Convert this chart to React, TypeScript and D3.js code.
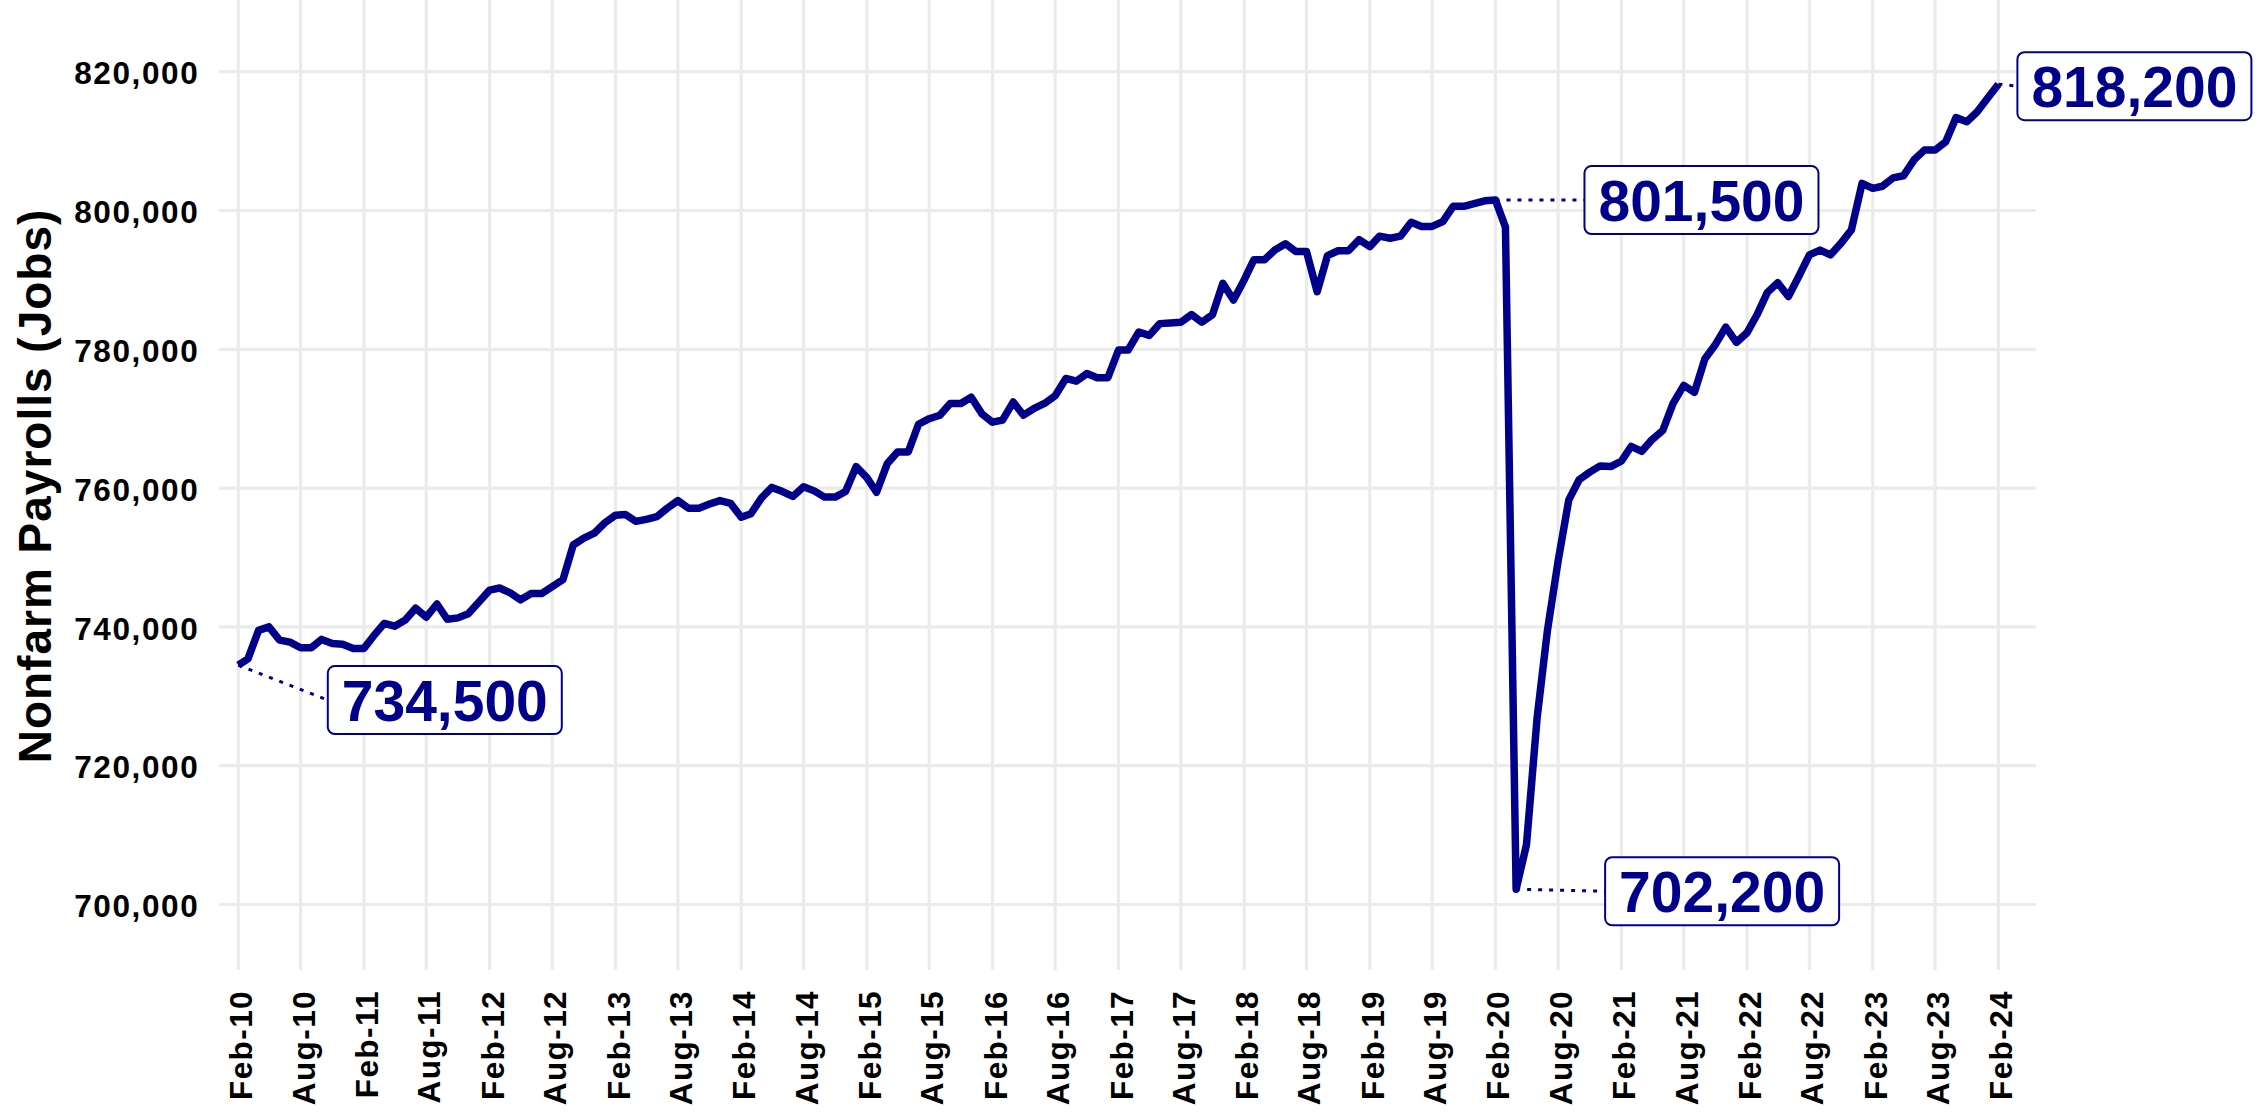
import React from "react";
import * as d3 from "d3";

// ---------- data ----------
const startYear = 2010;
const startMonthIndex = 1; // February

// Monthly nonfarm payrolls (jobs), Feb 2010 .. Feb 2024
const payrolls: number[] = [
  734500, 735400, 739500, 740000, 738100, 737800, 737000, 737000, 738200, 737600, 737500, 736900,
  736900, 738700, 740500, 740100, 741000, 742700, 741400, 743300, 741100, 741300, 741900, 743600,
  745300, 745600, 744900, 743900, 744800, 744800, 745800, 746800, 751800, 752800, 753500, 755000,
  756100, 756200, 755200, 755500, 755900, 757100, 758200, 757100, 757100, 757700, 758200, 757800,
  755800, 756300, 758600, 760100, 759500, 758800, 760200, 759600, 758700, 758700, 759500, 763100,
  761500, 759400, 763500, 765200, 765200, 769200, 770000, 770500, 772200, 772200, 773100, 770700,
  769500, 769800, 772400, 770500, 771500, 772200, 773300, 775800, 775400, 776500, 775900, 775900,
  779900, 779900, 782500, 782000, 783700, 783800, 783900, 785000, 783900, 785000, 789500, 787100,
  790000, 792900, 792900, 794300, 795200, 794100, 794100, 788300, 793500, 794200, 794200, 795800,
  794800, 796300, 796000, 796300, 798300, 797700, 797700, 798400, 800600, 800600, 801000, 801400,
  801500, 797600, 702200, 708600, 726900, 739500, 749500, 758300, 761200, 762300, 763200, 763100,
  763900, 766000, 765300, 767000, 768300, 772200, 774800, 773800, 778600, 780700, 783200, 781000,
  782400, 784900, 788200, 789600, 787600, 790500, 793600, 794300, 793600, 795300, 797200, 803900,
  803200, 803500, 804700, 805000, 807300, 808700, 808700, 809900, 813400, 812800, 814200, 816200,
  818200,
];

const yTicks: number[] = [700000, 720000, 740000, 760000, 780000, 800000, 820000];

const xTickLabels: string[] = [
  "Feb-10", "Aug-10", "Feb-11", "Aug-11", "Feb-12", "Aug-12", "Feb-13", "Aug-13",
  "Feb-14", "Aug-14", "Feb-15", "Aug-15", "Feb-16", "Aug-16", "Feb-17", "Aug-17",
  "Feb-18", "Aug-18", "Feb-19", "Aug-19", "Feb-20", "Aug-20", "Feb-21", "Aug-21",
  "Feb-22", "Aug-22", "Feb-23", "Aug-23", "Feb-24",
];

const annotationIndex: number[] = [0, 120, 122, 168];
const annotationLabels: string[] = ["734,500", "801,500", "702,200", "818,200"];

const yTitle = "Nonfarm Payrolls (Jobs)";

// ---------- layout / style ----------
const W = 2266;
const H = 1114;
const X0 = 238.3;
const X1 = 1998.4;
const Y_BOTTOM_TICK = 904.5;
const Y_TOP_TICK = 71.7;
const PANEL_LEFT = 219;
const PANEL_RIGHT = 2036;
const PANEL_TOP = 0;
const PANEL_BOTTOM = 970;
const NAVY = "#00008B";
const GRID = "#EBEBEB";
const FONT = "'Liberation Sans', Arial, Helvetica, sans-serif";
// label box placement relative to the annotated point: [dx to box left, dy of box centre]
const labelOffsets: [number, number][] = [
  [89.5, 35],
  [89, 0],
  [89, 2],
  [19, 2],
];
const BOX_W = 234;
const BOX_H = 68;

export default function App() {
  const start = new Date(startYear, startMonthIndex, 1);
  const dates = payrolls.map((_, i) => d3.timeMonth.offset(start, i));
  const tickDates = xTickLabels.map((_, k) => d3.timeMonth.offset(start, 6 * k));

  const x = d3
    .scaleTime()
    .domain([start, dates[dates.length - 1]])
    .range([X0, X1]);
  const y = d3
    .scaleLinear()
    .domain([yTicks[0], yTicks[yTicks.length - 1]])
    .range([Y_BOTTOM_TICK, Y_TOP_TICK]);

  const line = d3
    .line<number>()
    .x((_, i) => x(dates[i]))
    .y((d) => y(d));

  return (
    <div style={{ position: "fixed", left: 0, top: 0, width: W, height: H, background: "#fff" }}>
      <svg width={W} height={H} viewBox={`0 0 ${W} ${H}`} style={{ display: "block" }}>
        <rect x={0} y={0} width={W} height={H} fill="#ffffff" />
        {/* grid */}
        <g>
          {tickDates.map((d, k) => (
            <line
              key={"vx" + k}
              x1={x(d)}
              x2={x(d)}
              y1={PANEL_TOP}
              y2={PANEL_BOTTOM}
              stroke={GRID}
              strokeWidth={3.2}
            />
          ))}
          {yTicks.map((t) => (
            <line
              key={"hy" + t}
              x1={PANEL_LEFT}
              x2={PANEL_RIGHT}
              y1={y(t)}
              y2={y(t)}
              stroke={GRID}
              strokeWidth={3.2}
            />
          ))}
        </g>
        {/* y tick labels */}
        <g fontFamily={FONT} fontWeight="bold" fontSize={31.5} fill="#000">
          {yTicks.map((t) => (
            <text
              key={"yl" + t}
              x={199.3}
              y={y(t) + 12.6}
              textAnchor="end"
              style={{ letterSpacing: "1.6px" }}
            >
              {d3.format(",")(t)}
            </text>
          ))}
        </g>
        {/* x tick labels */}
        <g fontFamily={FONT} fontWeight="bold" fontSize={31.5} fill="#000">
          {tickDates.map((d, k) => (
            <text
              key={"xl" + k}
              transform={`translate(${x(d) + 14},${990}) rotate(-90)`}
              textAnchor="end"
              style={{ letterSpacing: "1.4px" }}
            >
              {xTickLabels[k]}
            </text>
          ))}
        </g>
        {/* y title */}
        <text
          transform={`translate(51,486) rotate(-90)`}
          textAnchor="middle"
          fontFamily={FONT}
          fontWeight="bold"
          fontSize={46}
          fill="#000"
          style={{ letterSpacing: "1px" }}
        >
          {yTitle}
        </text>
        {/* series line */}
        <path
          d={line(payrolls) || ""}
          fill="none"
          stroke={NAVY}
          strokeWidth={7.5}
          strokeLinejoin="round"
          strokeLinecap="butt"
        />
        {/* annotations */}
        {annotationIndex.map((idx, k) => {
          const px = x(dates[idx]);
          const py = y(payrolls[idx]);
          const [dx, dy] = labelOffsets[k];
          const bx = px + dx;
          const cy = py + dy;
          return (
            <g key={"ann" + k}>
              <line
                x1={px}
                y1={py}
                x2={bx}
                y2={cy}
                stroke={NAVY}
                strokeWidth={3}
                strokeDasharray="4 7"
              />
              <rect
                x={bx}
                y={cy - BOX_H / 2}
                width={BOX_W}
                height={BOX_H}
                rx={7}
                ry={7}
                fill="#fff"
                stroke={NAVY}
                strokeWidth={2}
              />
              <text
                x={bx + BOX_W / 2}
                y={cy + 21}
                textAnchor="middle"
                fontFamily={FONT}
                fontWeight="bold"
                fontSize={57}
                fill={NAVY}
              >
                {annotationLabels[k]}
              </text>
            </g>
          );
        })}
      </svg>
    </div>
  );
}
